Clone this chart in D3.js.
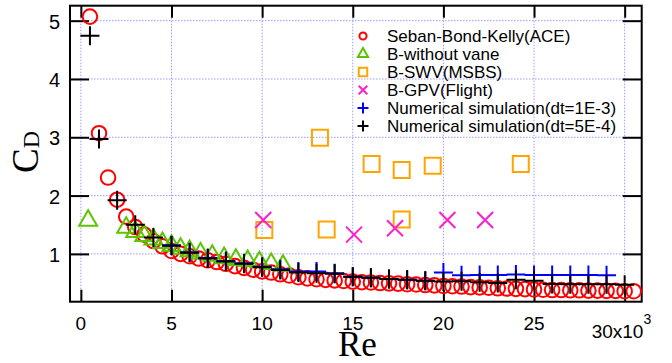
<!DOCTYPE html>
<html>
<head>
<meta charset="utf-8">
<script src="https://cdn.jsdelivr.net/npm/d3@7"></script>
<style>
  body { margin: 0; background: #fff; }
  svg { display: block; }
</style>
</head>
<body>
<svg width="672" height="363"></svg>
<script>
// Re in thousands, drag coefficient C_D
const sbkRe = [0.5, 1.0, 1.5, 2.0, 2.5, 3.0, 3.5, 4.0, 4.5, 5.0, 5.5, 6.0, 6.5, 7.0, 7.5, 8.0, 8.5, 9.0, 9.5, 10.0,
  10.5, 11.0, 11.5, 12.0, 12.5, 13.0, 13.5, 14.0, 14.5, 15.0, 15.5, 16.0, 16.5, 17.0, 17.5, 18.0, 18.5, 19.0, 19.5, 20.0,
  20.5, 21.0, 21.5, 22.0, 22.5, 23.0, 23.5, 24.0, 24.5, 25.0, 25.5, 26.0, 26.5, 27.0, 27.5, 28.0, 28.5, 29.0, 29.5, 30.0, 30.5];
const sbkCd = [5.07, 3.07, 2.31, 1.93, 1.64, 1.46, 1.33, 1.22, 1.13, 1.05, 1.00, 0.96, 0.92, 0.89, 0.86, 0.83, 0.79, 0.76, 0.73, 0.70,
  0.68, 0.65, 0.63, 0.60, 0.58, 0.565, 0.555, 0.545, 0.535, 0.525, 0.515, 0.51, 0.50, 0.495, 0.49, 0.48, 0.475, 0.465, 0.46, 0.45,
  0.445, 0.44, 0.43, 0.425, 0.42, 0.41, 0.405, 0.40, 0.395, 0.39, 0.385, 0.38, 0.38, 0.375, 0.375, 0.37, 0.37, 0.365, 0.365, 0.36, 0.36];

const noVaneRe = [0.4, 2.5, 3.0, 3.5, 4.0, 4.5, 5.0, 5.5, 6.0, 6.6, 7.25, 7.9, 8.55, 9.2, 9.85, 10.5, 11.15];
const noVaneCd = [1.57, 1.45, 1.38, 1.31, 1.25, 1.19, 1.14, 1.09, 1.05, 1.01, 0.97, 0.93, 0.90, 0.88, 0.86, 0.83, 0.80];

const swvRe = [10.12, 13.19, 13.56, 16.04, 17.7, 17.7, 19.41, 24.27];
const swvCd = [1.41, 2.99, 1.42, 2.54, 2.44, 1.59, 2.51, 2.54];

const gpvRe = [10.06, 15.07, 17.33, 20.22, 22.3];
const gpvCd = [1.58, 1.33, 1.44, 1.58, 1.58];

const sim1Re = [5, 6, 7, 8, 9, 10, 11, 12, 13, 14, 15, 16, 17, 18, 19, 20, 21, 22, 23, 24, 25, 26, 27, 28, 29];
const sim1Cd = [1.15, 1.03, 0.93, 0.88, 0.84, 0.78, 0.735, 0.70, 0.70, 0.67, 0.61, 0.59, 0.57, 0.555, 0.54,
  0.68, 0.635, 0.64, 0.64, 0.645, 0.64, 0.64, 0.64, 0.64, 0.635];

const sim2Re = [0.5, 1, 2, 3, 4, 5, 6, 7, 8, 9, 10, 11, 12, 13, 14, 15, 16, 17, 18, 19, 20, 21, 22, 23, 24, 25, 26, 27, 28, 29, 30];
const sim2Cd = [4.74, 2.97, 1.92, 1.50, 1.28, 1.14, 1.02, 0.92, 0.87, 0.83, 0.77, 0.725, 0.68, 0.67, 0.66, 0.61, 0.59, 0.57, 0.555, 0.54,
  0.525, 0.53, 0.515, 0.50, 0.555, 0.54, 0.485, 0.48, 0.48, 0.48, 0.47];

const seriesNames = ['Seban-Bond-Kelly(ACE)', 'B-without vane', 'B-SWV(MSBS)', 'B-GPV(Flight)',
  'Numerical simulation(dt=1E-3)', 'Numerical simulation(dt=5E-4)'];

const xTicks = [0, 5, 10, 15, 20, 25, 30];
const xTickLabels = ['0', '5', '10', '15', '20', '25'];
const yTicks = [1, 2, 3, 4, 5];

const svg = d3.select('svg'),
  margin = {top: 5.7, right: 30.3, bottom: 61.3, left: 70},
  width = +svg.attr('width') - margin.left - margin.right,
  height = +svg.attr('height') - margin.top - margin.bottom,
  g = svg.append('g').attr('transform', 'translate(' + margin.left + ',' + margin.top + ')');

const x = d3.scaleLinear().domain([-0.6, 30.94]).range([0, width]);
const y = d3.scaleLinear().domain([0.18, 5.257]).range([height, 0]);

// dotted grid
const grid = g.append('g').attr('stroke', '#9a9aff').attr('stroke-width', 1).attr('stroke-dasharray', '1.5,1.5');
grid.selectAll('.gx').data(xTicks).enter().append('line')
  .attr('x1', d => x(d)).attr('x2', d => x(d)).attr('y1', 0).attr('y2', height);
grid.selectAll('.gy').data(yTicks).enter().append('line')
  .attr('x1', 0).attr('x2', width).attr('y1', d => y(d)).attr('y2', d => y(d));

// ticks on all four sides, pointing inward
function styleAxis(sel) {
  sel.select('.domain').remove();
  sel.selectAll('line').attr('stroke', '#000').attr('stroke-width', 2);
  sel.selectAll('text').remove();
}
g.append('g').attr('transform', 'translate(0,' + height + ')')
  .call(d3.axisBottom(x).tickValues(xTicks).tickSize(-12)).call(styleAxis);
g.append('g')
  .call(d3.axisTop(x).tickValues(xTicks).tickSize(-12)).call(styleAxis);
g.append('g')
  .call(d3.axisLeft(y).tickValues(yTicks).tickSize(-19)).call(styleAxis);
g.append('g').attr('transform', 'translate(' + width + ',0)')
  .call(d3.axisRight(y).tickValues(yTicks).tickSize(-19)).call(styleAxis);

g.append('rect').attr('width', width).attr('height', height)
  .attr('fill', 'none').attr('stroke', '#000').attr('stroke-width', 2);

// tick labels
const lblFont = '"Liberation Sans", Arial, sans-serif';
g.selectAll('.xl').data(xTickLabels).enter().append('text')
  .attr('x', (d, i) => x(xTicks[i])).attr('y', height + 28)
  .attr('text-anchor', 'middle').attr('font-family', lblFont).attr('font-size', 19).text(d => d);
g.selectAll('.yl').data(yTicks).enter().append('text')
  .attr('x', -10).attr('y', d => y(d) + 8)
  .attr('text-anchor', 'end').attr('font-family', lblFont).attr('font-size', 20).text(d => d);

const mult = g.append('text').attr('x', x(30) - 33).attr('y', height + 36.5)
  .attr('font-family', lblFont).attr('font-size', 19);
mult.append('tspan').text('30x10');
mult.append('tspan').attr('font-size', 14).attr('dy', -14).text('3');

// axis titles
svg.append('text').attr('x', 338).attr('y', 356)
  .attr('font-family', '"Liberation Serif", "Times New Roman", serif').attr('font-size', 35).text('Re');
const cd = svg.append('text').attr('transform', 'translate(38,173) rotate(-90)')
  .attr('font-family', '"Liberation Serif", "Times New Roman", serif').attr('font-size', 37);
cd.append('tspan').text('C');
cd.append('tspan').attr('font-size', 24).attr('dy', 1).text('D');

// markers
function marker(sel, type, s) {
  if (type === 'plus') {
    return sel.append('path').attr('fill', 'none')
      .attr('d', 'M' + (-s) + ',0H' + s + 'M0,' + (-s) + 'V' + s);
  }
  if (type === 'cross') {
    return sel.append('path').attr('fill', 'none')
      .attr('d', 'M' + (-s) + ',' + (-s) + 'L' + s + ',' + s + 'M' + (-s) + ',' + s + 'L' + s + ',' + (-s));
  }
  const sym = {circle: d3.symbolCircle, triangle: d3.symbolTriangle, square: d3.symbolSquare}[type];
  return sel.append('path').attr('fill', 'none').attr('d', d3.symbol().type(sym).size(s)());
}

const series = [
  {re: sbkRe, cd: sbkCd, type: 'circle', color: '#ff0000', size: 167, legSize: 40},
  {re: noVaneRe, cd: noVaneCd, type: 'triangle', color: '#5cc400', size: 140, legSize: 45},
  {re: swvRe, cd: swvCd, type: 'square', color: '#ffa500', size: 256, legSize: 72},
  {re: gpvRe, cd: gpvCd, type: 'cross', color: '#ff1fc8', size: 8, legSize: 4.3},
  {re: sim1Re, cd: sim1Cd, type: 'plus', color: '#0000ff', size: 9.5, legSize: 5.5},
  {re: sim2Re, cd: sim2Cd, type: 'plus', color: '#000000', size: 9.5, legSize: 5.5}
];

series.forEach(function (s) {
  const layer = g.append('g').attr('stroke', s.color).attr('stroke-width', 2);
  s.re.forEach(function (re, i) {
    const m = layer.append('g').attr('transform', 'translate(' + x(re) + ',' + y(s.cd[i]) + ')');
    marker(m, s.type, s.size);
  });
});

// legend
const legend = svg.append('g');
seriesNames.forEach(function (name, i) {
  const s = series[i];
  const row = legend.append('g').attr('transform', 'translate(363,' + (36 + i * 18) + ')');
  marker(row.append('g').attr('stroke', s.color).attr('stroke-width', 2), s.type, s.legSize);
  row.append('text').attr('x', 24).attr('y', 6).attr('font-family', lblFont)
    .attr('font-size', 17).text(name);
});
</script>
</body>
</html>
